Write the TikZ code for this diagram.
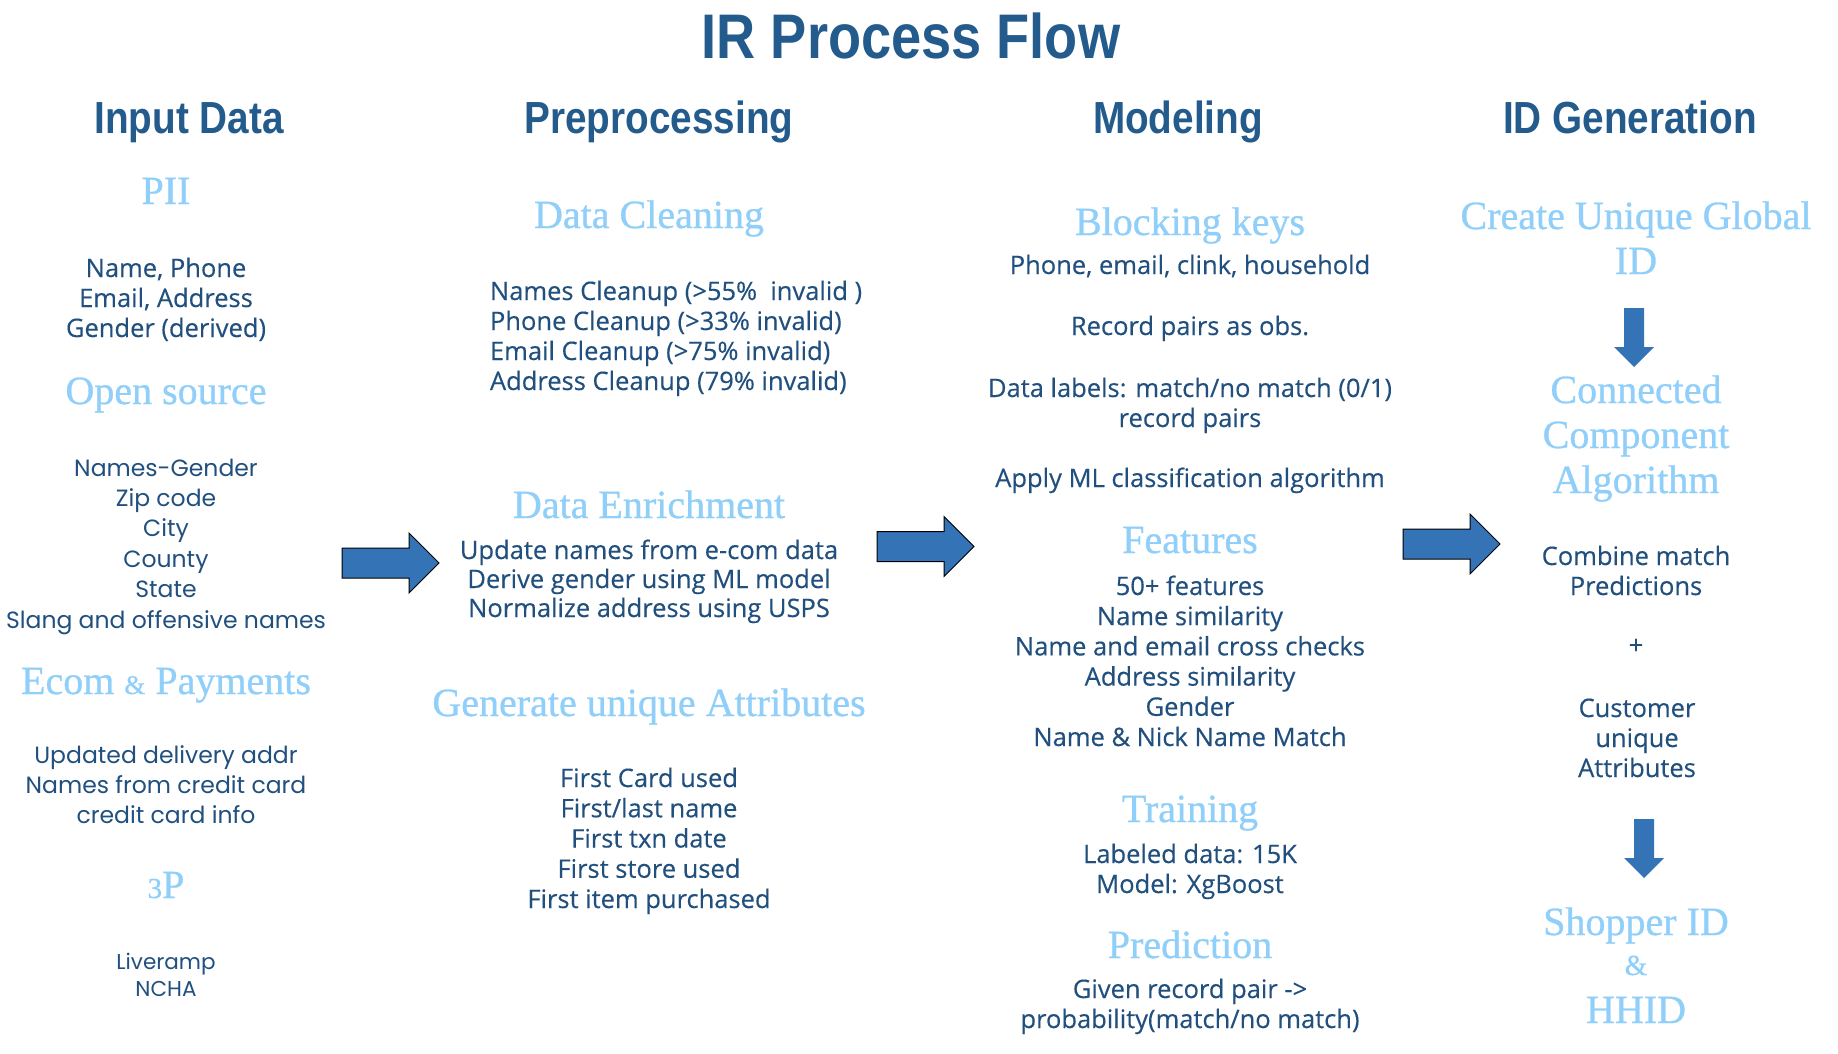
\documentclass[tikz,border=0pt]{standalone}
\usepackage{fontspec}
\setmainfont{Liberation Serif}
\newfontfamily\headfont{Liberation Sans}[FakeStretch=0.86]
\newfontfamily\bodyfont{Open Sans}[FakeBold=0.3]
\newfontfamily\popfont{Poppins}
\newfontfamily\serifhead{Liberation Serif}[FakeBold=0.7]
\definecolor{hd}{HTML}{245B8D}
\definecolor{bd}{HTML}{21507F}
\definecolor{lb}{HTML}{8FCFFA}
\definecolor{ar}{HTML}{3373B6}
\newcommand\cl[1]{\begin{tabular}[t]{@{}c@{}}#1\end{tabular}}
\newcommand\leftlines[1]{\begin{tabular}[t]{@{}l@{}}#1\end{tabular}}
\tikzset{
  every node/.style={inner sep=0pt, outer sep=0pt, anchor=base},
  titletext/.style={text=hd, font=\headfont\bfseries\fontsize{63}{70}\selectfont},
  colhead/.style={text=hd, font=\headfont\bfseries\fontsize{45}{50}\selectfont},
  sub/.style={text=lb, font=\serifhead\fontsize{40}{45}\selectfont},
  body/.style={text=bd, font=\bodyfont\fontsize{25.5}{30}\selectfont},
  pop/.style={text=bd, font=\popfont\fontsize{23.5}{30.4}\selectfont},
  blockR/.style={fill=ar, draw=black, line width=1pt, line join=miter},
  blockD/.style={fill=ar, draw=none},
  rarrow/.pic={\path[blockR] (0,-15) -- (67,-15) -- (67,-30) -- (97,0) -- (67,30) -- (67,15) -- (0,15) -- cycle;},
  darrow/.pic={\path[blockD] (-10,0) -- (10,0) -- (10,39) -- (20,39) -- (0,59) -- (-20,39) -- (-10,39) -- cycle;}
}
\begin{document}
\begin{tikzpicture}[x=1pt,y=-1pt]
\fill[white] (0,0) rectangle (1838,1054);
\useasboundingbox (0,0) rectangle (1838,1054);

% title and column heads
\node[titletext] (title) at (911,59) {IR Process Flow};
\node[colhead] (h1) at (189,133) {Input Data};
\node[colhead] (h2) at (659,133) {Preprocessing};
\node[colhead] (h3) at (1178,133) {Modeling};
\node[colhead] (h4) at (1630,133) {ID Generation};

% column 1
\node[sub] (pii) at (166,204) {PII};
\node[body] (piit) at (166,277) {\cl{Name, Phone\\Email, Address\\Gender (derived)}};
\node[sub] (os) at (166,404) {Open source};
\node[pop] (ost) at (166,476) {\cl{Names-Gender\\Zip code\\City\\County\\State\\Slang and offensive names}};
\node[sub] (ecom) at (166,694) {Ecom {\fontsize{27}{30}\selectfont\&} Payments};
\node[pop, font=\popfont\fontsize{23.5}{30}\selectfont] (ecomt) at (166,763) {\cl{Updated delivery addr\\Names from credit card\\credit card info}};
\node[sub] (tp) at (166,898) {{\fontsize{29}{30}\selectfont 3}P};
\node[pop, font=\popfont\fontsize{21.5}{27}\selectfont] (tpt) at (166,969) {\cl{Liveramp\\NCHA}};

% column 2
\node[sub] (dc) at (649,228) {Data Cleaning};
\node[body, anchor=base west] (dct) at (490,300) {\leftlines{Names Cleanup (>55\%\ \ invalid )\\Phone Cleanup (>33\% invalid)\\Email Cleanup (>75\% invalid)\\Address Cleanup (79\% invalid)}};
\node[sub] (de) at (649,518) {Data Enrichment};
\node[body, font=\bodyfont\fontsize{25.5}{29}\selectfont] (det) at (649,559) {\cl{Update names from e-com data\\Derive gender using ML model\\Normalize address using USPS}};
\node[sub] (gu) at (649,716) {Generate unique Attributes};
\node[body, font=\bodyfont\fontsize{25.5}{30.25}\selectfont] (gut) at (649,787) {\cl{First Card used\\First/last name\\First txn date\\First store used\\First item purchased}};

% column 3
\node[sub] (bk) at (1190,235) {Blocking keys};
\node[body] (bk1) at (1190,274) {Phone, email, clink, household};
\node[body] (bk2) at (1190,335) {Record pairs as obs.};
\node[body] (bk3) at (1190,397) {\cl{Data labels: match/no match (0/1)\\record pairs}};
\node[body] (bk4) at (1190,487) {Apply ML classification algorithm};
\node[sub] (ft) at (1190,553) {Features};
\node[body, font=\bodyfont\fontsize{25.5}{30.2}\selectfont] (ftt) at (1190,595) {\cl{50+ features\\Name similarity\\Name and email cross checks\\Address similarity\\Gender\\Name \& Nick Name Match}};
\node[sub] (tr) at (1190,822) {Training};
\node[body] (trt) at (1190,863) {\cl{Labeled data: 15K\\Model: XgBoost}};
\node[sub] (pr) at (1190,958) {Prediction};
\node[body] (prt) at (1190,998) {\cl{Given record pair ->\\probability(match/no match)}};

% column 4
\node[sub] (cu) at (1636,229) {\cl{Create Unique Global\\ID}};
\node[sub] (cc) at (1636,403) {\cl{Connected\\Component\\Algorithm}};
\node[body] (cm) at (1636,565) {\cl{Combine match\\Predictions}};
\node[body] (plus) at (1636,654) {+};
\node[body] (cua) at (1637,717) {\cl{Customer\\ unique\\Attributes}};
\node[sub] (sid) at (1636,935) {Shopper ID};
\node[sub, font=\serifhead\fontsize{29}{30}\selectfont] (amp) at (1636,975) {\&};
\node[sub] (hhid) at (1636,1023) {HHID};

% block arrows
\pic at (342,563) {rarrow};
\pic at (877,546.5) {rarrow};
\pic at (1403,544) {rarrow};
\pic at (1634,308) {darrow};
\pic at (1644,819) {darrow};
\end{tikzpicture}
\end{document}
